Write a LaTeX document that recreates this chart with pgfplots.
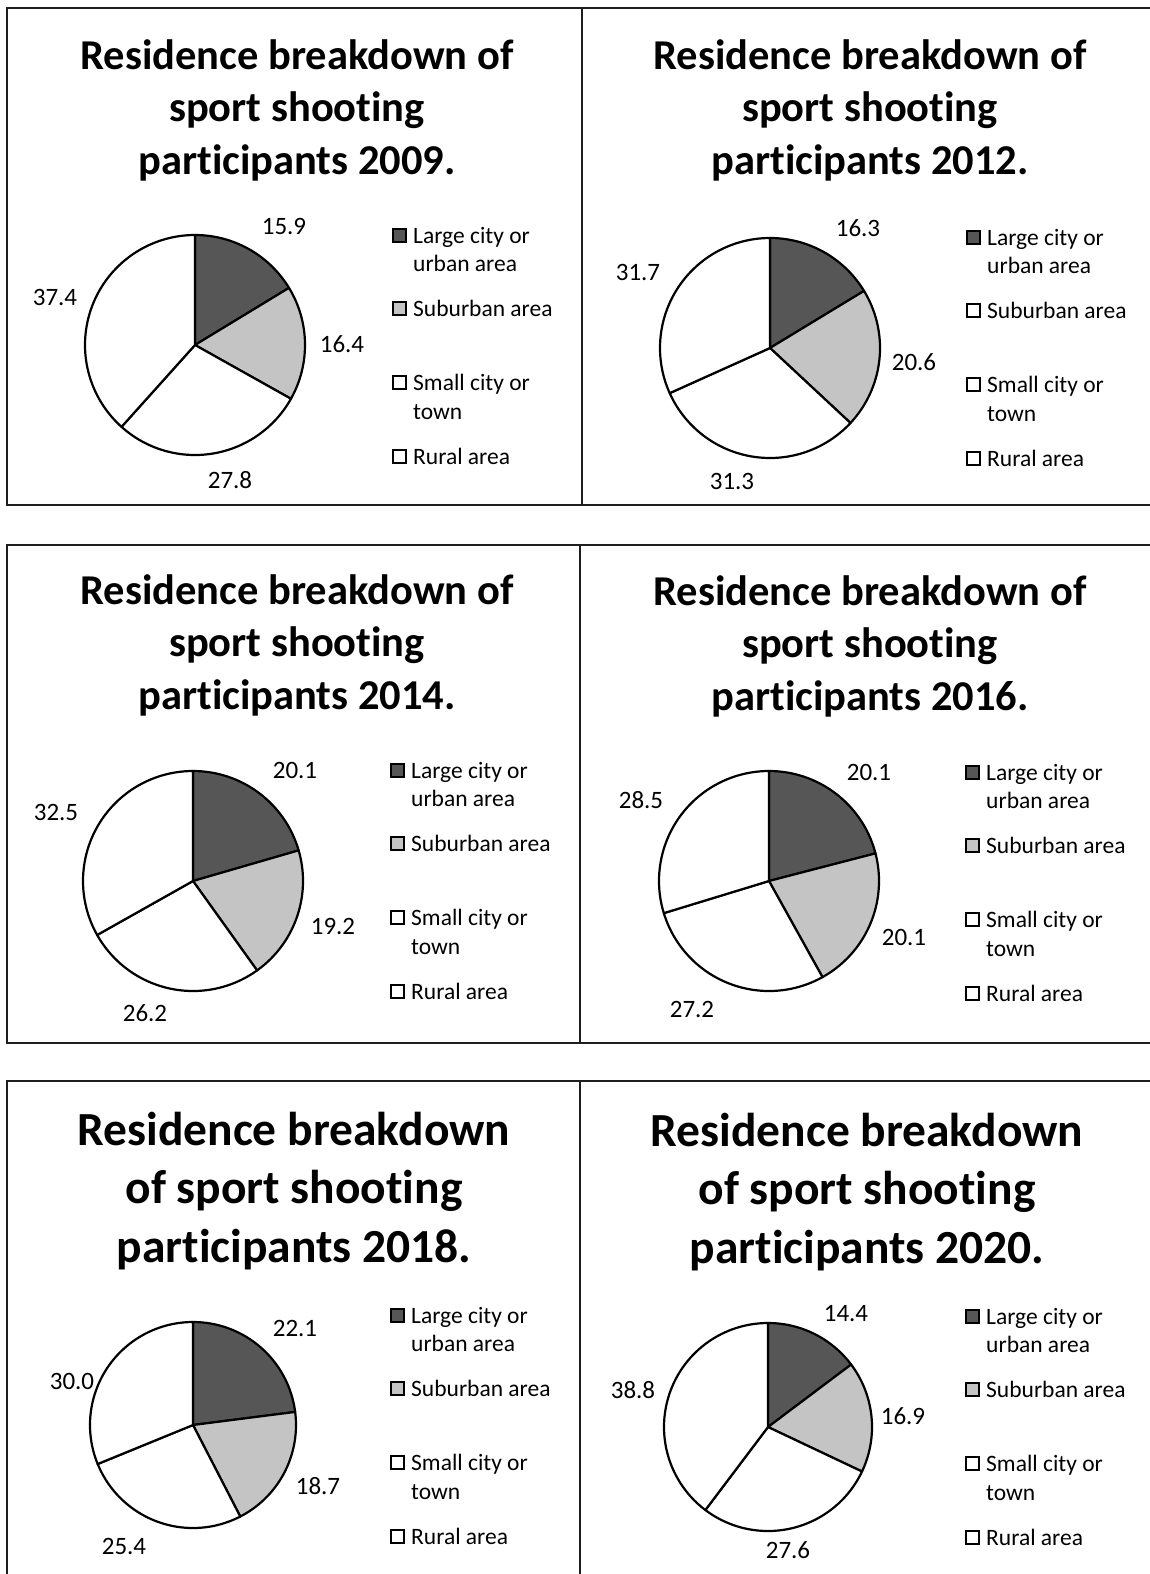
\documentclass[border=0pt]{standalone}
\usepackage{pgfplots}
\pgfplotsset{compat=1.18}
\usepackage{fontspec}
\setmainfont{Carlito}[Ligatures=NoCommon]
\definecolor{darkslice}{RGB}{86,86,86}
\definecolor{lightslice}{RGB}{196,196,196}
\definecolor{frame}{RGB}{30,30,30}

% pie: center x, center y, diameter, four values (clockwise from 12 o'clock)
\newcommand{\pie}[7]{%
  \pgfmathsetmacro\tot{#4+#5+#6+#7}%
  \pgfmathsetmacro\aB{90-360*#4/\tot}%
  \pgfmathsetmacro\aC{\aB-360*#5/\tot}%
  \pgfmathsetmacro\aD{\aC-360*#6/\tot}%
  \begin{axis}[at={(#1pt,-#2pt)},anchor=center,scale only axis,width=#3pt,height=#3pt,
      hide axis,xmin=-1,xmax=1,ymin=-1,ymax=1,clip=false,samples=90]
    \addplot[draw=black,line width=2.2pt,line join=round,fill=darkslice,domain=\aB:90] ({cos(x)},{sin(x)}) -- (axis cs:0,0) -- cycle;
    \addplot[draw=black,line width=2.2pt,line join=round,fill=lightslice,domain=\aC:\aB] ({cos(x)},{sin(x)}) -- (axis cs:0,0) -- cycle;
    \addplot[draw=black,line width=2.2pt,line join=round,fill=white,domain=\aD:\aC] ({cos(x)},{sin(x)}) -- (axis cs:0,0) -- cycle;
    \addplot[draw=black,line width=2.2pt,line join=round,fill=white,domain=-270:\aD] ({cos(x)},{sin(x)}) -- (axis cs:0,0) -- cycle;
  \end{axis}}

\newcommand{\lab}[3]{\node[anchor=center,inner sep=0pt,font=\fontsize{25}{30}\selectfont] at (#1,#2) {#3};}

% legend: box left x, first line centre y, suburban box colour
\newcommand{\pielegend}[3]{%
  \begin{scope}[font=\fontsize{23.5}{28}\selectfont]
  \draw[line width=1.3pt,fill=darkslice] (#1,#2-6) rectangle ++(13,13);
  \draw[line width=1.3pt,fill=#3] (#1,#2+67) rectangle ++(13,13);
  \draw[line width=1.3pt,fill=white] (#1,#2+141) rectangle ++(13,13);
  \draw[line width=1.3pt,fill=white] (#1,#2+215) rectangle ++(13,13);
  \node[anchor=base west,inner sep=0pt] at (#1+20,#2+8) {Large city or};
  \node[anchor=base west,inner sep=0pt] at (#1+20,#2+36) {urban area};
  \node[anchor=base west,inner sep=0pt] at (#1+20,#2+81) {Suburban area};
  \node[anchor=base west,inner sep=0pt] at (#1+20,#2+155) {Small city or};
  \node[anchor=base west,inner sep=0pt] at (#1+20,#2+184) {town};
  \node[anchor=base west,inner sep=0pt] at (#1+20,#2+229) {Rural area};
  \end{scope}}

\newcommand{\titleA}[3]{% x, first baseline, year
  \begin{scope}[font=\fontsize{42.5}{52}\selectfont\bfseries]
  \node[anchor=base,inner sep=0pt] at (#1,#2) {Residence breakdown of};
  \node[anchor=base,inner sep=0pt] at (#1,#2+52.5) {sport shooting};
  \node[anchor=base,inner sep=0pt] at (#1,#2+105) {participants #3.};
  \end{scope}}
\newcommand{\titleB}[3]{%
  \begin{scope}[font=\fontsize{47.5}{58}\selectfont\bfseries]
  \node[anchor=base,inner sep=0pt] at (#1,#2) {Residence breakdown};
  \node[anchor=base,inner sep=0pt] at (#1,#2+58.5) {of sport shooting};
  \node[anchor=base,inner sep=0pt] at (#1,#2+117) {participants #3.};
  \end{scope}}

\begin{document}
\begin{tikzpicture}[x=1pt,y=-1pt]
\useasboundingbox (0,0) rectangle (1150,1574);
\clip (0,0) rectangle (1150,1574);
\fill[white] (0,0) rectangle (1150,1574);

% panel frames
\draw[frame,line width=1.6pt] (7,8) rectangle (1170,505);
\draw[frame,line width=1.6pt] (582,8) -- (582,505);
\draw[frame,line width=1.6pt] (7,545) rectangle (1170,1043);
\draw[frame,line width=1.6pt] (580,545) -- (580,1043);
\draw[frame,line width=1.6pt] (7,1081) rectangle (1170,1600);
\draw[frame,line width=1.6pt] (580,1081) -- (580,1600);

% titles
\titleA{297}{69}{2009}
\titleA{870}{69}{2012}
\titleA{297}{604}{2014}
\titleA{870}{605}{2016}
\titleB{294}{1145}{2018}
\titleB{867}{1146}{2020}

% pies: Large city, Suburban, Small city/town, Rural
\pie{195}{345}{220}{15.9}{16.4}{27.8}{37.4}
\pie{770}{348}{220}{16.3}{20.6}{31.3}{31.7}
\pie{193}{881}{220}{20.1}{19.2}{26.2}{32.5}
\pie{769}{881}{220}{20.1}{20.1}{27.2}{28.5}
\pie{193}{1425}{206}{22.1}{18.7}{25.4}{30.0}
\pie{768}{1427}{208}{14.4}{16.9}{27.6}{38.8}

% data labels
\lab{284}{226}{15.9}\lab{342}{344}{16.4}\lab{230}{480}{27.8}\lab{55}{297}{37.4}
\lab{858}{228}{16.3}\lab{914}{362}{20.6}\lab{732}{481}{31.3}\lab{638}{272}{31.7}
\lab{295}{770}{20.1}\lab{333}{926}{19.2}\lab{145}{1013}{26.2}\lab{56}{812}{32.5}
\lab{869}{772}{20.1}\lab{904}{937}{20.1}\lab{692}{1009}{27.2}\lab{641}{800}{28.5}
\lab{295}{1328}{22.1}\lab{318}{1486}{18.7}\lab{124}{1546}{25.4}\lab{72}{1381}{30.0}
\lab{846}{1314}{14.4}\lab{903}{1416}{16.9}\lab{788}{1550}{27.6}\lab{633}{1390}{38.8}

% legends
\pielegend{393}{235}{lightslice}
\pielegend{967}{237}{white}
\pielegend{391}{770}{lightslice}
\pielegend{966}{772}{lightslice}
\pielegend{391}{1315}{lightslice}
\pielegend{966}{1316}{lightslice}
\end{tikzpicture}
\end{document}
